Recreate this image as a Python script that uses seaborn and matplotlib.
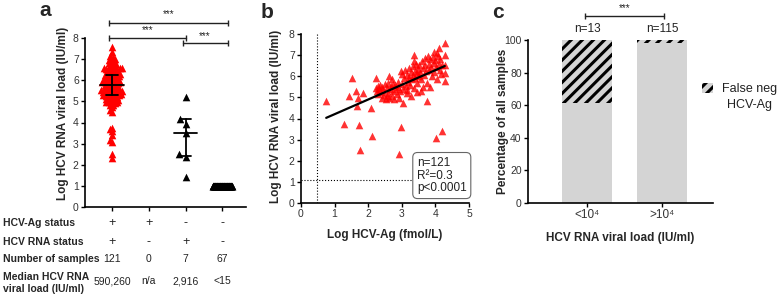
import numpy as np
import pandas as pd
import matplotlib
matplotlib.use("Agg")
import matplotlib.pyplot as plt
import matplotlib.transforms as mtransforms
from matplotlib.patches import Patch
import seaborn as sns

sns.set_theme(style="ticks")
plt.rcParams['font.family'] = ['Liberation Sans', 'DejaVu Sans']
plt.rcParams['hatch.color'] = 'black'
plt.rcParams['hatch.linewidth'] = 2.2
plt.rcParams['axes.linewidth'] = 1.2
plt.rcParams['axes.edgecolor'] = 'black'
plt.rcParams['xtick.color'] = 'black'
plt.rcParams['ytick.color'] = 'black'
plt.rcParams['xtick.labelcolor'] = '#333333'
plt.rcParams['ytick.labelcolor'] = '#333333'

# ---------------- data ----------------
# Panel b / panel a (HCV-Ag+ / RNA+ samples, n=121)
ag_log = [0.75, 1.29, 1.43, 1.51, 1.64, 1.66, 1.74, 1.76, 1.84, 1.71,
          2.08, 2.12, 2.93, 2.97, 4.01, 4.21, 3.76, 3.04, 3.58, 3.84,
          4.28, 4.28, 4.28, 4.28, 4.28, 4.12, 3.96, 3.36, 2.23, 2.63,
          2.22, 2.25, 2.28, 2.30, 2.33, 2.36, 2.38, 2.40, 2.42, 2.45,
          2.48, 2.50, 2.52, 2.55, 2.58, 2.60, 2.62, 2.65, 2.68, 2.70,
          2.72, 2.75, 2.78, 2.80, 2.82, 2.85, 2.88, 2.90, 2.92, 2.95,
          3.00, 3.02, 3.05, 3.08, 3.10, 3.12, 3.14, 3.16, 3.18, 3.20,
          3.22, 3.25, 3.27, 3.30, 3.32, 3.34, 3.36, 3.38, 3.40, 3.42,
          3.44, 3.46, 3.48, 3.50, 3.52, 3.55, 3.58, 3.60, 3.62, 3.65,
          3.68, 3.70, 3.72, 3.75, 3.77, 3.80, 3.82, 3.85, 3.87, 3.90,
          3.92, 3.95, 3.97, 4.00, 4.02, 4.05, 4.08, 4.10, 4.13, 4.15,
          4.18, 4.20, 4.05, 2.55, 2.75, 3.15, 3.28, 3.45, 3.35, 2.98,
          3.62]
rna_log = [4.82, 3.76, 5.06, 5.92, 5.31, 4.58, 3.67, 2.53, 5.19, 4.98,
           4.52, 3.16, 2.31, 3.60, 3.10, 3.42, 4.84, 4.74, 5.28, 5.47,
           5.78, 6.15, 6.52, 7.02, 7.58, 7.33, 7.14, 7.02, 5.90, 6.00,
           5.45, 5.30, 5.55, 5.15, 5.40, 5.60, 5.25, 4.95, 5.50, 5.35,
           5.10, 5.62, 4.90, 5.45, 5.20, 5.70, 4.95, 5.38, 5.55, 5.05,
           5.85, 5.28, 4.92, 5.60, 5.42, 5.15, 5.75, 5.50, 4.95, 5.30,
           5.65, 6.10, 5.40, 5.90, 6.30, 5.55, 5.20, 6.05, 5.75, 6.40,
           5.95, 5.60, 6.20, 5.85, 6.50, 6.05, 5.45, 6.25, 5.90, 6.60,
           6.15, 5.70, 6.35, 6.00, 6.55, 6.20, 5.85, 6.70, 6.40, 6.05,
           6.85, 6.55, 6.25, 5.70, 6.95, 6.60, 6.30, 6.80, 6.45, 6.00,
           6.90, 6.65, 6.20, 6.75, 6.45, 5.85, 6.95, 6.60, 6.30, 6.80,
           6.10, 6.55, 7.10, 5.05, 5.65, 5.35, 5.05, 5.25, 6.70, 6.25,
           5.50]
# Panel a other groups
ag_neg_rna_pos = [5.23, 4.15, 3.92, 3.49, 2.51, 2.39, 1.44]
ag_neg_rna_neg = [1.0] * 67

groups = ["Ag+/RNA+", "Ag+/RNA-", "Ag-/RNA+", "Ag-/RNA-"]
ag_status = ["+", "+", "-", "-"]
rna_status = ["+", "-", "+", "-"]
n_samples = ["121", "0", "7", "67"]
median_vl = ["590,260", "n/a", "2,916", "<15"]
# median / interquartile range shown in panel a (groups 1 and 3)
summary_groups = [0, 2]
summary_median = [5.78, 3.48]
summary_q1 = [5.30, 2.42]
summary_q3 = [6.25, 4.15]

# Panel c
bar_cats = ["<10\u2074", ">10\u2074"]
bar_n = [13, 115]
detected_pct = [61.5, 98.3]
total_pct = [100.0, 100.0]

# ---------------- figure ----------------
W, H = 778, 295
fig = plt.figure(figsize=(W / 100, H / 100), dpi=100)

def ax_rect(l, t, r, b):
    return [l / W, 1 - b / H, (r - l) / W, (b - t) / H]

axA = fig.add_axes(ax_rect(85, 38, 246, 207))
axB = fig.add_axes(ax_rect(301, 34, 469, 203))
axC = fig.add_axes(ax_rect(528, 40, 713, 203))

TICK_FS = 7.5
LAB_FS = 8.5

# ---- panel a ----
axA.set_xlim(-0.73, 3.64)
axA.set_ylim(0, 8)
specs = [(groups[0], rna_log, 'red', 1.7),
         (groups[2], ag_neg_rna_pos, 'black', 5.0),
         (groups[3], ag_neg_rna_neg, 'black', 0.2)]
for g, vals, col, sz in specs:
    d = pd.DataFrame({"group": [g] * len(vals), "val": vals})
    sns.swarmplot(data=d, x="group", y="val", order=groups, color=col,
                  marker="^", size=sz, linewidth=0, ax=axA, warn_thresh=1)
axA.set_xlim(-0.73, 3.64)
axA.set_ylim(0, 8)
fig.canvas.draw()
for coll in list(axA.collections):
    off = np.asarray(coll.get_offsets())
    fc = coll.get_facecolors()
    coll.remove()
    if len(off) == 0 or len(fc) == 0:
        continue
    axA.scatter(off[:, 0], off[:, 1], s=30, marker='^', color=fc[0],
                linewidths=0, zorder=3)

for gi, med, q1, q3 in zip(summary_groups, summary_median, summary_q1, summary_q3):
    axA.plot([gi - 0.32, gi + 0.32], [med, med], color='black', lw=1.3, zorder=4)
    axA.plot([gi, gi], [q1, q3], color='black', lw=1.3, zorder=4)
    for q in (q1, q3):
        axA.plot([gi - 0.16, gi + 0.16], [q, q], color='black', lw=1.3, zorder=4)

axA.set_xticks(range(4))
axA.set_xticklabels([])
axA.set_xlabel("")
axA.set_yticks(range(0, 9))
axA.tick_params(labelsize=TICK_FS, length=3, width=1, pad=1.5)
axA.set_ylabel("Log HCV RNA viral load (IU/ml)", fontsize=LAB_FS, fontweight='bold')
axA.yaxis.set_label_coords(-0.10, 0.556)
sns.despine(ax=axA)

def bracket(ax, x0, x1, y, ystar, fs=7):
    ax.plot([x0, x1], [y, y], color='#222222', lw=1.0, marker='|', markersize=5,
            markeredgewidth=1.0, clip_on=False)
    ax.text((x0 + x1) / 2, ystar, "***", ha='center', va='center', fontsize=fs,
            color='#222222', clip_on=False)

bracket(axA, -0.08, 3.14, 8.72, 9.12)
bracket(axA, -0.08, 2.0, 8.0, 8.36)
bracket(axA, 1.92, 3.14, 7.77, 8.10)

# table under panel a
trans = mtransforms.blended_transform_factory(axA.transData, fig.transFigure)
row_labels = ["HCV-Ag status", "HCV RNA status", "Number of samples",
              "Median HCV RNA\nviral load (IU/ml)"]
row_label_y = [223, 242, 259, 283]
row_val_y = [223, 242, 259, 281]
rows = [ag_status, rna_status, n_samples, median_vl]
for lab, ly, vy, vals in zip(row_labels, row_label_y, row_val_y, rows):
    fig.text(3 / W, 1 - ly / H, lab, fontsize=7.5, fontweight='bold',
             ha='left', va='center', linespacing=1.15)
    for i, v in enumerate(vals):
        fs = 9 if v in ("+", "-") else 7.5
        fig.text(i, 1 - vy / H, v, transform=trans, fontsize=fs,
                 ha='center', va='center', color='#222222')

# ---- panel b ----
sns.regplot(x=ag_log, y=rna_log, ci=None, marker="^", color='red',
            scatter_kws={"s": 30, "linewidths": 0, "zorder": 3},
            line_kws={"color": "black", "lw": 1.6, "zorder": 4}, ax=axB)
axB.set_xlim(0, 5)
axB.set_ylim(0, 8)
axB.axvline(0.47, ls=':', color='black', lw=0.8, zorder=1)
axB.axhline(1.08, ls=':', color='black', lw=0.8, zorder=1)
axB.set_xticks(range(0, 6))
axB.set_yticks(range(0, 9))
axB.tick_params(labelsize=TICK_FS, length=3, width=1, pad=1.5)
axB.set_xlabel("Log HCV-Ag (fmol/L)", fontsize=LAB_FS, fontweight='bold')
axB.set_ylabel("Log HCV RNA viral load (IU/ml)", fontsize=LAB_FS, fontweight='bold')
axB.yaxis.set_label_coords(-0.113, 0.51)
axB.xaxis.set_label_coords(0.5, -0.155)
axB.text(3.45, 1.3, "n=121\nR\u00b2=0.3\np<0.0001", fontsize=8.5, ha='left', va='center',
         linespacing=1.1, color='#222222', zorder=6, clip_on=False,
         bbox=dict(boxstyle='round,pad=0.35,rounding_size=0.4', fc='white',
                   ec='#666666', lw=0.8))
sns.despine(ax=axB)

# ---- panel c ----
df_c = pd.DataFrame({"vl": bar_cats, "total": total_pct, "detected": detected_pct})
sns.barplot(data=df_c, x="vl", y="total", color="#d4d4d4", saturation=1,
            width=0.67, hatch="///", edgecolor="black", linewidth=0, ax=axC)
sns.barplot(data=df_c, x="vl", y="detected", color="#d4d4d4", saturation=1,
            width=0.67, linewidth=0, ax=axC)
axC.set_xlim(-0.79, 1.68)
axC.set_ylim(0, 100)
axC.set_yticks(range(0, 101, 20))
axC.tick_params(labelsize=TICK_FS, length=3, width=1, pad=1.5)
axC.tick_params(axis='x', labelsize=8.5)
axC.set_xlabel("HCV RNA viral load (IU/ml)", fontsize=LAB_FS, fontweight='bold')
axC.set_ylabel("Percentage of all samples", fontsize=LAB_FS, fontweight='bold')
axC.yaxis.set_label_coords(-0.103, 0.5)
axC.xaxis.set_label_coords(0.5, -0.178)
for i, n in enumerate(bar_n):
    axC.text(i, 106.5, f"n={n}", ha='center', va='center', fontsize=8.5,
             color='#222222', clip_on=False)
bracket(axC, -0.03, 1.03, 114.7, 119.8)
sns.despine(ax=axC)

handle = Patch(facecolor="#d4d4d4", edgecolor="black", hatch="///", lw=0)
leg = fig.legend([handle], ["False neg"], loc='center left',
                 bbox_to_anchor=(702 / W, 1 - 89 / H), frameon=False,
                 fontsize=9, handlelength=0.9, handleheight=0.9,
                 handletextpad=0.7, borderpad=0, borderaxespad=0)
for t in leg.get_texts():
    t.set_color('#222222')
fig.text(749 / W, 1 - 105 / H, "HCV-Ag", fontsize=9, ha='center', va='center',
         color='#222222')

# panel letters
for letter, x, y in [("a", 45, 11), ("b", 267, 12), ("c", 498, 12)]:
    fig.text(x / W, 1 - y / H, letter, fontsize=15, fontweight='bold',
             ha='center', va='center')

fig.savefig("out.png", dpi=100)
